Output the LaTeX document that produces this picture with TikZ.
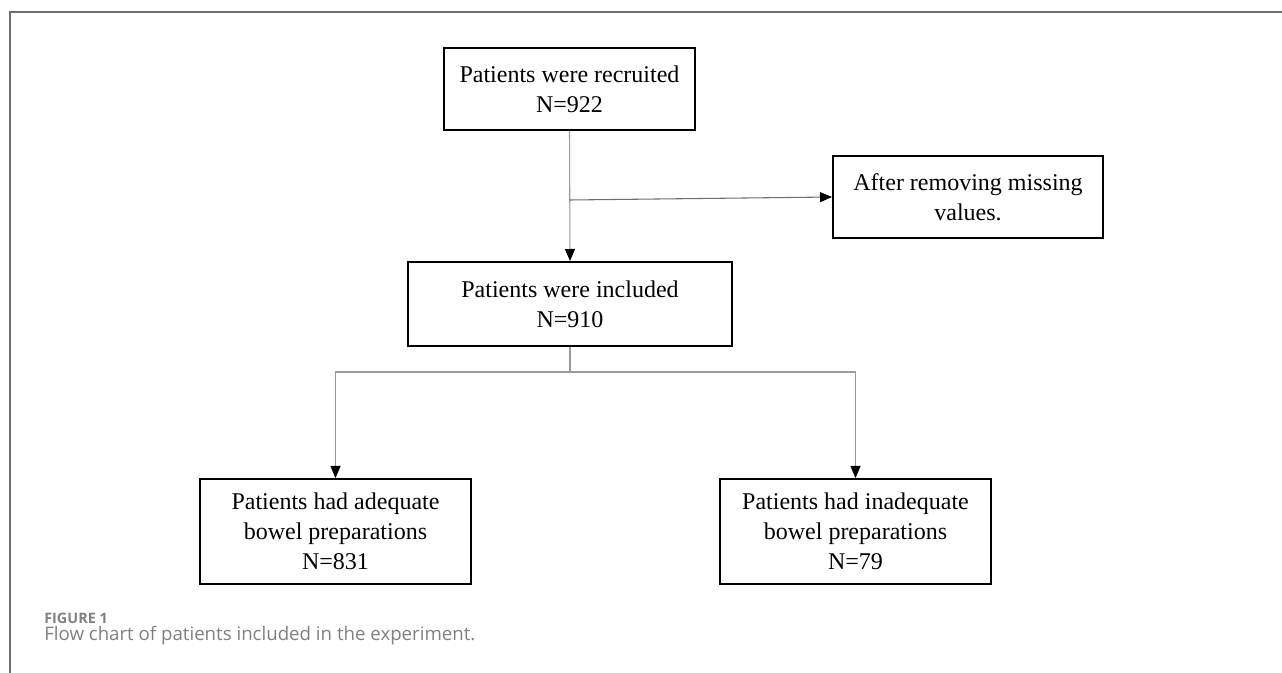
\documentclass[tikz,border=0pt]{standalone}
\usepackage{fontspec}
\setmainfont{Liberation Serif}
\newfontfamily\capfont{Open Sans}
\usetikzlibrary{arrows.meta}
\definecolor{framegray}{HTML}{6E6E6E}
\definecolor{linkgray}{HTML}{9A9A9A}
\definecolor{capgray}{HTML}{808080}
\begin{document}
\begin{tikzpicture}[x=0.75pt,y=-0.75pt,
  box/.style={draw=black,line width=1.5pt,align=center,inner sep=0pt,
    font=\fontsize{18pt}{22.5pt}\selectfont},
  link/.style={draw=linkgray,line width=0.8pt,
    -{Triangle[color=black,length=9pt,width=7.5pt]}},
  plain/.style={draw=linkgray,line width=0.8pt}]
\useasboundingbox (0,0) rectangle (1282,673);
\draw[framegray,line width=1.5pt] (1282,12) -- (10,12) -- (10,673);
\node[box,minimum width=251*0.75pt,minimum height=82*0.75pt] (b1) at (569.5,89) {Patients were recruited\\N=922};
\node[box,minimum width=270*0.75pt,minimum height=82*0.75pt] (b3) at (968,197) {After removing missing\\values.};
\node[box,minimum width=324*0.75pt,minimum height=84*0.75pt] (b2) at (570,304) {Patients were included\\N=910};
\node[box,minimum width=271*0.75pt,minimum height=105*0.75pt] (b4) at (335.5,531.5) {Patients had adequate\\bowel preparations\\N=831};
\node[box,minimum width=271*0.75pt,minimum height=105*0.75pt] (b5) at (855.5,531.5) {Patients had inadequate\\bowel preparations\\N=79};
\coordinate (j1) at (570,200);
\coordinate (j2) at (570,372);
\draw[link] (b1.south) -- (b2.north);
\draw[draw=framegray,line width=0.8pt,-{Triangle[color=black,length=9pt,width=7.5pt]}] (j1) -- (b3.west);
\draw[plain] (b2.south) -- (j2);
\draw[link] (j2) -| (b4.north);
\draw[link] (j2) -| (b5.north);
\node[anchor=base west,inner sep=0pt,text=capgray,font=\capfont\fontsize{10.8pt}{12pt}\selectfont\bfseries] (fig) at (44,623) {FIGURE 1};
\node[anchor=base west,inner sep=0pt,text=capgray,font=\capfont\fontsize{14pt}{16pt}\selectfont] (cap) at (44,640) {Flow chart of patients included in the experiment.};
\end{tikzpicture}
\end{document}
